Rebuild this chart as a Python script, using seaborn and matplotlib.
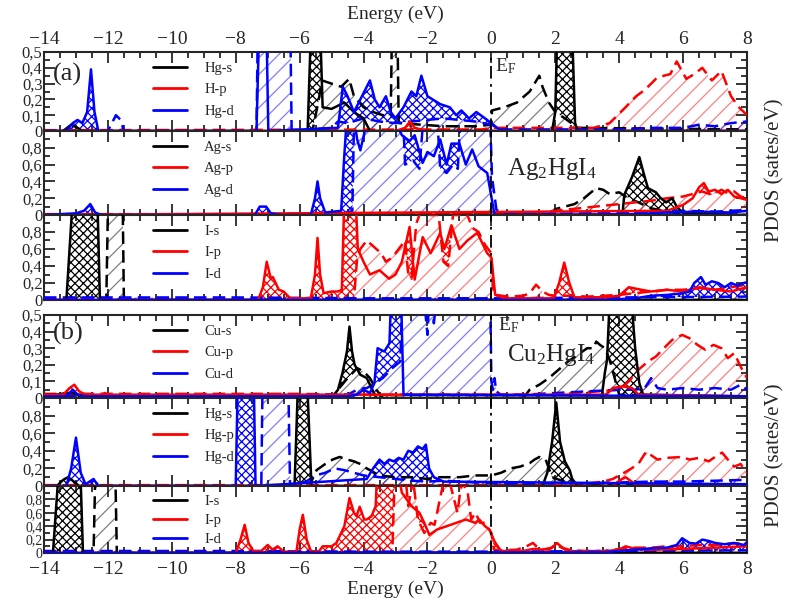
import numpy as np
import matplotlib
matplotlib.use('Agg')
import matplotlib.pyplot as plt
import seaborn as sns
from matplotlib.lines import Line2D
from matplotlib.ticker import MultipleLocator, FixedLocator, FuncFormatter

sns.set_theme(style='ticks')
plt.rcParams['font.family'] = ['Liberation Serif', 'DejaVu Serif']
plt.rcParams['mathtext.fontset'] = 'custom'
plt.rcParams['mathtext.rm'] = 'Liberation Serif'
plt.rcParams['mathtext.it'] = 'Liberation Serif'
plt.rcParams['hatch.linewidth'] = 0.9

# ---------------- (a) Ag2HgI4 : Hg ----------------
a_hg_labels = ['Hg-s', 'H-p', 'Hg-d']
a_hg_s_solid_e = [-14, -13.4, -13.15, -12.95, -12.8, -5.75, -5.62, -5.5, -5.38, -5.28, -5.0, -4.6, -4.3, -4.0, -3.8,
                  1.9, 2.0, 2.08, 2.3, 2.5, 2.62, 2.7, 8]
a_hg_s_solid_v = [0, 0, 0.04, 0.02, 0, 0, 0.8, 0.8, 0.8, 0.15, 0.14, 0.18, 0.12, 0.08, 0,
                  0, 0.12, 0.8, 0.8, 0.8, 0.05, 0.0, 0]
a_hg_s_dash_e = [-14, -5.6, -5.4, -5.3, -5.0, -4.7, -4.45, -4.3, -4.0, -3.7, -3.4, -3.15, -3.1, -2.95, -2.9, -1.5,
                 -0.5, 0.0, 0.02, 0.4, 0.8, 1.2, 1.35, 1.5, 1.6, 1.8, 2.0, 2.3, 2.7, 8]
a_hg_s_dash_v = [0, 0, 0.2, 0.32, 0.3, 0.28, 0.33, 0.22, 0.15, 0.12, 0.1, 0.1, 0.8, 0.8, 0.05, 0.03,
                 0.03, 0.04, 0.13, 0.15, 0.18, 0.25, 0.3, 0.35, 0.28, 0.18, 0.12, 0.08, 0.02, 0.01]
a_hg_p_solid_e = [-14, -3.0, -2.7, -2.55, -2.4, -2.0, 8]
a_hg_p_solid_v = [0, 0, 0.02, 0.06, 0.02, 0, 0]
a_hg_p_dash_e = [-14, -0.3, 0.0, 2.7, 3.2, 3.7, 4.1, 4.53, 4.8, 5.15, 5.4, 5.6, 5.8, 6.1, 6.35, 6.6, 6.9, 7.2,
                 7.5, 7.75, 8.0]
a_hg_p_dash_v = [0.005, 0.01, 0.02, 0.02, 0.02, 0.05, 0.13, 0.22, 0.26, 0.33, 0.35, 0.36, 0.44, 0.33, 0.36, 0.4,
                 0.32, 0.38, 0.22, 0.15, 0.1]
a_hg_d_solid_e = [-14, -13.3, -13.1, -12.95, -12.8, -12.65, -12.53, -12.42, -12.3, -7.35, -7.25, -7.05, -6.98,
                  -4.8, -4.65, -4.5, -4.3, -4.15, -3.8, -3.65, -3.5, -3.3, -3.15, -3.0, -2.75, -2.5, -2.35,
                  -2.19, -2.0, -1.84, -1.6, -1.3, -1.1, -0.94, -0.7, -0.47, -0.2, 0.0, 0.3, 8]
a_hg_d_solid_v = [0, 0, 0.05, 0.07, 0.05, 0.12, 0.39, 0.12, 0, 0, 0.8, 0.8, 0,
                  0.02, 0.28, 0.22, 0.12, 0.18, 0.32, 0.2, 0.15, 0.22, 0.12, 0.08, 0.15, 0.25, 0.22,
                  0.35, 0.22, 0.2, 0.17, 0.15, 0.1, 0.13, 0.08, 0.12, 0.08, 0.05, 0.0, 0.0]
a_hg_d_dash_e = [-14, -12.0, -11.85, -11.75, -11.6, -11.5, -7.35, -7.3, -6.3, -6.25, -5.0, -4.8, -4.5, -4.0,
                 -3.5, -3.0, -2.5, -2.0, -1.5, -1.0, -0.5, 0.0, 0.3, 4.0, 5.0, 6.0, 6.5, 7.0, 7.5, 8.0]
a_hg_d_dash_v = [0, 0, 0.06, 0.1, 0.07, 0, 0, 0.8, 0.8, 0, 0.02, 0.06, 0.05, 0.08,
                 0.06, 0.05, 0.06, 0.07, 0.08, 0.07, 0.06, 0.04, 0.01, 0.01, 0.02, 0.02, 0.04, 0.03, 0.05, 0.06]

# ---------------- (a) Ag2HgI4 : Ag ----------------
a_ag_labels = ['Ag-s', 'Ag-p', 'Ag-d']
a_ag_s_solid_e = [-14, 4.1, 4.16, 4.4, 4.63, 4.8, 4.9, 5.15, 5.3, 5.47, 5.66, 5.8, 6.0, 8]
a_ag_s_solid_v = [0, 0, 0.24, 0.45, 0.69, 0.45, 0.32, 0.27, 0.2, 0.15, 0.2, 0.1, 0.02, 0]
a_ag_s_dash_e = [-14, 1.8, 2.0, 2.3, 2.6, 2.9, 3.28, 3.5, 3.7, 4.0, 4.2, 4.6, 5.0, 5.5, 6.0, 8]
a_ag_s_dash_v = [0, 0, 0.07, 0.1, 0.13, 0.2, 0.32, 0.3, 0.25, 0.27, 0.22, 0.15, 0.08, 0.04, 0.01, 0]
a_ag_p_solid_e = [-14, 5.5, 6.0, 6.3, 6.5, 6.65, 6.8, 7.0, 7.2, 7.4, 7.6, 8.0]
a_ag_p_solid_v = [0, 0.05, 0.12, 0.2, 0.33, 0.38, 0.28, 0.3, 0.25, 0.3, 0.22, 0.18]
a_ag_p_dash_e = [-14, 0, 0.5, 1.0, 1.5, 2.0, 2.5, 3.0, 3.5, 4.0, 4.5, 5.0, 5.5, 6.0, 6.3, 6.6, 6.9, 7.2, 7.4,
                 7.6, 7.8, 8.0]
a_ag_p_dash_v = [0.01, 0.01, 0.01, 0.02, 0.03, 0.05, 0.07, 0.09, 0.11, 0.13, 0.15, 0.17, 0.2, 0.22, 0.25, 0.28,
                 0.24, 0.3, 0.26, 0.28, 0.22, 0.2]
a_ag_d_solid_e = [-14, -13.0, -12.75, -12.55, -12.4, -12.2, -7.4, -7.25, -7.05, -6.9, -6.6, -5.65, -5.52, -5.44,
                  -5.36, -5.2, -4.7, -4.62, -4.5, -4.35, -4.2, -4.1, -3.9, -3.6, -3.3, -3.0, -2.8, -2.56,
                  -2.4, -2.15, -2.0, -1.8, -1.6, -1.4, -1.25, -1.0, -0.8, -0.6, -0.4, -0.13, 0.1, 4.5, 5.5,
                  6.5, 7.5, 8.0]
a_ag_d_solid_v = [0, 0.02, 0.05, 0.13, 0.03, 0.0, 0.0, 0.1, 0.1, 0.02, 0.0, 0.0, 0.2, 0.4,
                  0.2, 0.03, 0.05, 0.6, 1.3, 1.3, 0.9, 0.77, 1.1, 1.2, 1.1, 1.1, 0.95, 0.88,
                  0.95, 0.62, 0.75, 0.7, 0.9, 0.6, 0.85, 0.85, 0.6, 0.78, 0.58, 0.5, 0.0, 0.01, 0.03,
                  0.04, 0.03, 0.05]
a_ag_d_dash_e = [-14, -4.7, -4.35, -4.28, -2.8, -2.7, -2.45, -2.25, -2.1, -1.9, -1.7, -1.6, -1.4, -1.2, -1.05,
                 -0.95, -0.05, 0.02, 0.16, 0.4, 1.0, 5.0, 6.0, 7.0, 7.5, 8.0]
a_ag_d_dash_v = [0, 0, 0.05, 1.5, 1.5, 0.6, 0.65, 0.55, 1.3, 1.3, 1.2, 0.55, 0.5, 0.6, 0.55,
                 1.3, 1.3, 0.45, 0.06, 0.02, 0.01, 0.03, 0.05, 0.04, 0.05, 0.06]

# ---------------- (a) Ag2HgI4 : I ----------------
a_i_labels = ['I-s', 'I-p', 'I-d']
a_i_s_solid_e = [-14, -13.3, -13.05, -12.85, -12.7, -12.55, -12.35, -12.25, 8]
a_i_s_solid_v = [0, 0, 1.5, 1.5, 1.2, 1.5, 1.5, 0, 0]
a_i_s_dash_e = [-14, -12.05, -11.98, -11.55, -11.5, 8]
a_i_s_dash_v = [0, 0, 1.5, 1.5, 0, 0]
a_i_p_solid_e = [-14, -7.3, -7.15, -7.03, -6.9, -6.84, -6.65, -6.5, -6.3, -5.65, -5.52, -5.44, -5.36, -5.25,
                 -5.0, -4.8, -4.68, -4.58, -4.28, -4.18, -4.0, -3.8, -3.5, -3.2, -3.0, -2.8, -2.56, -2.4,
                 -2.15, -1.9, -1.6, -1.47, -1.25, -1.0, -0.75, -0.44, -0.13, 0.0, 0.12, 0.4, 1.95, 2.12,
                 2.28, 2.44, 2.6, 3.5, 4.0, 4.3, 4.7, 5.0, 5.5, 6.0, 6.5, 7.0, 7.5, 8.0]
a_i_p_solid_v = [0, 0, 0.15, 0.45, 0.25, 0.27, 0.12, 0.1, 0.02, 0.02, 0.3, 0.73, 0.3, 0.08,
                 0.1, 0.1, 0.12, 1.5, 1.5, 0.6, 0.45, 0.3, 0.35, 0.25, 0.3, 0.45, 0.86, 0.24,
                 0.74, 0.55, 0.79, 0.6, 0.88, 0.6, 0.7, 0.79, 0.55, 0.5, 0.06, 0.02, 0.02, 0.2,
                 0.44, 0.2, 0.03, 0.03, 0.05, 0.15, 0.12, 0.1, 0.12, 0.1, 0.15, 0.12, 0.1, 0.15]
a_i_p_dash_e = [-14, -4.3, -4.2, -4.1, -3.9, -3.75, -3.6, -3.45, -3.3, -3.1, -2.9, -2.7, -2.6, -2.5, -2.35,
                -2.2, -1.9, -1.65, -1.5, -1.35, -1.2, -1.0, -0.8, -0.6, -0.4, -0.2, 0.0, 0.05, 0.16, 0.5,
                1.0, 1.2, 1.4, 1.6, 1.8, 2.0, 2.5, 3.0, 3.5, 4.0, 4.5, 5.0, 5.5, 6.0, 6.5, 7.0, 7.5, 8.0]
a_i_p_dash_v = [0.01, 0.01, 0.5, 0.6, 0.7, 0.65, 0.6, 0.55, 0.45, 0.5, 0.6, 0.7, 0.3, 0.25, 0.9,
                1.05, 1.0, 1.0, 0.45, 0.4, 1.0, 1.0, 1.05, 0.85, 0.8, 0.65, 0.55, 0.1, 0.06, 0.04,
                0.05, 0.08, 0.18, 0.1, 0.06, 0.05, 0.05, 0.04, 0.05, 0.06, 0.08, 0.1, 0.12, 0.12, 0.14, 0.12,
                0.15, 0.18]
a_i_d_solid_e = [-14, 3.5, 4.5, 5.0, 5.5, 6.0, 6.2, 6.35, 6.56, 6.7, 6.9, 7.1, 7.3, 7.5, 7.7, 7.9, 8.0]
a_i_d_solid_v = [0, 0, 0.02, 0.05, 0.06, 0.08, 0.1, 0.2, 0.27, 0.18, 0.22, 0.2, 0.15, 0.2, 0.17, 0.2, 0.21]
a_i_d_dash_e = [-14, -8, -4, 0, 4, 8]
a_i_d_dash_v = [0.03, 0.03, 0.02, 0.02, 0.03, 0.04]

# ---------------- (b) Cu2HgI4 : Cu ----------------
b_cu_labels = ['Cu-s', 'Cu-p', 'Cu-d']
b_cu_s_solid_e = [-14, -13.6, -13.3, -13.1, -12.9, -12.4, -5.0, -4.8, -4.66, -4.52, -4.44, -4.36, -4.28, -4.1,
                  -3.9, -3.75, -3.6, 3.45, 3.55, 3.62, 3.75, 4.3, 4.5, 4.63, 4.75, 8]
b_cu_s_solid_v = [0.02, 0.02, 0.03, 0.03, 0.02, 0.01, 0.0, 0.05, 0.15, 0.28, 0.43, 0.28, 0.2, 0.14,
                  0.12, 0.06, 0.0, 0.0, 0.15, 0.23, 0.8, 0.8, 0.3, 0.09, 0.02, 0.01]
b_cu_s_dash_e = [-14, -5.0, -4.8, -4.5, -4.2, -4.0, -3.8, -3.6, -3.4, 1.0, 1.2, 1.5, 1.8, 2.1, 2.4, 2.7, 3.0,
                 3.2, 3.28, 3.4, 3.55, 3.7, 4.0, 8]
b_cu_s_dash_v = [0, 0, 0.05, 0.12, 0.18, 0.16, 0.12, 0.05, 0.0, 0.0, 0.05, 0.08, 0.12, 0.17, 0.22, 0.26, 0.3,
                 0.3, 0.34, 0.32, 0.3, 0.23, 0.02, 0.0]
b_cu_p_solid_e = [-14, -13.4, -13.2, -13.05, -12.9, -12.7, -12.2, -12.1, -12.0, 3.6, 3.8, 4.1, 4.4, 4.6, 8]
b_cu_p_solid_v = [0.02, 0.02, 0.06, 0.08, 0.04, 0.02, 0.02, 0.03, 0.02, 0.02, 0.06, 0.07, 0.06, 0.02, 0.01]
b_cu_p_dash_e = [-14, -10, -6, -4.5, -2, 0, 2, 4.0, 4.3, 4.6, 4.9, 5.15, 5.4, 5.66, 5.97, 6.2, 6.45, 6.7,
                 6.95, 7.2, 7.4, 7.6, 7.85, 8.0]
b_cu_p_dash_v = [0.025, 0.025, 0.025, 0.02, 0.02, 0.02, 0.02, 0.05, 0.1, 0.17, 0.22, 0.25, 0.3, 0.35, 0.38,
                 0.36, 0.32, 0.29, 0.32, 0.3, 0.24, 0.27, 0.17, 0.12]
b_cu_d_solid_e = [-14, -13.3, -13.1, -12.95, -12.8, -4.5, -4.2, -4.0, -3.8, -3.66, -3.56, -3.35, -3.19, -3.1,
                  -2.85, -2.75, 8]
b_cu_d_solid_v = [0.01, 0.01, 0.05, 0.02, 0.01, 0.01, 0.02, 0.05, 0.03, 0.09, 0.3, 0.28, 0.33, 0.8,
                  0.8, 0.02, 0.01]
b_cu_d_dash_e = [-14, -4.5, -4.2, -3.9, -3.7, -3.4, -3.1, -2.85, -2.75, -2.2, -2.0, -1.9, -1.8, -1.6, -0.05,
                 0.0, 0.05, 0.1, 0.15, 0.3, 1.0, 2.0, 3.0, 4.0, 4.5, 4.8, 5.0, 5.2, 5.5, 6.0, 6.5, 7.0, 7.5,
                 7.8, 8.0]
b_cu_d_dash_v = [0.01, 0.02, 0.05, 0.06, 0.08, 0.12, 0.18, 0.22, 0.8, 0.8, 0.38, 0.8, 0.45, 0.8, 0.8,
                 0.1, 0.05, 0.12, 0.04, 0.02, 0.02, 0.03, 0.04, 0.05, 0.05, 0.06, 0.12, 0.06, 0.05, 0.06, 0.05,
                 0.06, 0.05, 0.08, 0.05]

# ---------------- (b) Cu2HgI4 : Hg ----------------
b_hg_labels = ['Hg-s', 'Hg-p', 'Hg-d']
b_hg_s_solid_e = [-14, -13.6, -13.4, -13.25, -13.1, -12.9, -6.16, -6.02, -5.8, -5.63, -5.55, 1.6, 1.75, 1.9,
                  2.03, 2.15, 2.3, 2.45, 2.53, 2.7, 8]
b_hg_s_solid_v = [0, 0, 0.07, 0.1, 0.06, 0, 0, 1.5, 1.5, 0, 0, 0, 0.15, 0.5,
                  0.95, 0.5, 0.28, 0.18, 0.08, 0, 0]
b_hg_s_dash_e = [-14, -5.7, -5.47, -5.2, -4.97, -4.75, -4.5, -4.3, -4.1, -3.9, -3.5, -3.0, -2.5, -2.0, -1.6,
                 -1.0, -0.5, 0.0, 0.3, 0.6, 0.9, 1.2, 1.35, 1.5, 1.7, 1.9, 2.5, 8]
b_hg_s_dash_v = [0, 0, 0.18, 0.25, 0.3, 0.33, 0.3, 0.28, 0.25, 0.2, 0.12, 0.1, 0.1, 0.08, 0.1,
                 0.1, 0.12, 0.12, 0.15, 0.2, 0.22, 0.26, 0.3, 0.33, 0.3, 0.1, 0.02, 0]
b_hg_p_solid_e = [-14, 3.8, 4.0, 4.2, 4.5, 8]
b_hg_p_solid_v = [0, 0, 0.06, 0.1, 0.02, 0]
b_hg_p_dash_e = [-14, 2.5, 3.0, 3.5, 3.8, 4.0, 4.3, 4.6, 4.84, 5.2, 5.5, 5.97, 6.2, 6.5, 6.8, 7.0, 7.22, 7.4,
                 7.6, 7.8, 8.0]
b_hg_p_dash_v = [0.01, 0.01, 0.03, 0.05, 0.08, 0.12, 0.18, 0.25, 0.39, 0.3, 0.32, 0.33, 0.3, 0.32, 0.28, 0.33,
                 0.38, 0.3, 0.22, 0.25, 0.15]
b_hg_d_solid_e = [-14, -13.3, -13.15, -13.0, -12.85, -12.7, -12.45, -12.3, -8.0, -7.92, -7.45, -7.38, -3.9,
                  -3.7, -3.5, -3.35, -3.2, -3.05, -2.9, -2.75, -2.6, -2.45, -2.3, -2.15, -2.05, -1.95, -1.8,
                  -1.5, 8]
b_hg_d_solid_v = [0, 0, 0.2, 0.55, 0.15, 0.02, 0.08, 0.0, 0, 1.5, 1.5, 0, 0.08,
                  0.2, 0.3, 0.25, 0.3, 0.28, 0.32, 0.3, 0.4, 0.38, 0.45, 0.42, 0.47, 0.2, 0.1,
                  0.05, 0.02]
b_hg_d_dash_e = [-14, -12.5, -12.4, -12.3, -7.2, -7.15, -6.37, -6.3, -5.8, -5.5, -5.2, -4.9, -4.6, -4.3, -4.0,
                 -3.5, -3.0, -2.5, -2.0, -1.5, -1.0, -0.5, 0.0, 1.0, 2.0, 3.0, 4.0, 5.0, 6.0, 7.0, 8.0]
b_hg_d_dash_v = [0.0, 0.0, 0.06, 0.0, 0, 1.5, 1.5, 0.0, 0.05, 0.12, 0.15, 0.2, 0.18, 0.15, 0.12,
                 0.1, 0.08, 0.06, 0.05, 0.06, 0.05, 0.04, 0.03, 0.02, 0.03, 0.03, 0.04, 0.05, 0.05, 0.06, 0.07]

# ---------------- (b) Cu2HgI4 : I ----------------
b_i_labels = ['I-s', 'I-p', 'I-d']
b_i_s_solid_e = [-14, -13.72, -13.5, -12.88, -12.78, 8]
b_i_s_solid_v = [0, 0, 1.5, 1.5, 0, 0]
b_i_s_dash_e = [-14, -12.45, -12.38, -11.78, -11.72, 8]
b_i_s_dash_v = [0, 0, 1.5, 1.5, 0, 0]
b_i_p_solid_e = [-14, -8.0, -7.85, -7.72, -7.6, -7.45, -7.2, -7.0, -6.85, -6.69, -6.5, -6.1, -6.0, -5.9, -5.78,
                 -5.65, -5.4, -5.28, -5.0, -4.85, -4.6, -4.44, -4.3, -4.22, -4.12, -3.98, -3.9, -3.75, -3.62,
                 -3.55, -3.05, -2.8, -2.5, -2.25, -2.1, -1.94, -1.7, -1.4, -1.1, -0.8, -0.5, -0.38, -0.2,
                 -0.06, 0.1, 0.3, 1.0, 1.3, 1.6, 1.9, 2.05, 2.3, 2.6, 3.5, 4.0, 4.2, 4.5, 5.0, 6.0, 7.0, 8.0]
b_i_p_solid_v = [0, 0, 0.2, 0.42, 0.15, 0.03, 0.03, 0.12, 0.05, 0.1, 0.02, 0.02, 0.35, 0.57, 0.2,
                 0.03, 0.02, 0.1, 0.1, 0.15, 0.4, 0.82, 0.6, 0.55, 0.69, 0.5, 0.5, 0.55, 0.7,
                 1.5, 1.5, 0.9, 0.7, 0.6, 0.45, 0.27, 0.35, 0.4, 0.45, 0.5, 0.45, 0.5, 0.4,
                 0.35, 0.17, 0.03, 0.03, 0.06, 0.05, 0.08, 0.15, 0.05, 0.02, 0.02, 0.05, 0.1, 0.06, 0.05, 0.06,
                 0.08, 0.1]
b_i_p_dash_e = [-14, -3.1, -3.0, -2.8, -2.7, -2.6, -2.45, -2.3, -2.1, -1.9, -1.78, -1.5, -1.3, -1.06, -0.94,
                -0.75, -0.63, -0.5, -0.35, -0.2, 0.0, 0.08, 0.3, 0.8, 1.1, 1.3, 1.5, 1.8, 2.0, 2.2, 2.5, 3.0,
                3.5, 4.0, 4.5, 5.0, 5.5, 6.0, 6.5, 7.0, 7.5, 8.0]
b_i_p_dash_v = [0.01, 0.01, 1.5, 1.5, 1.2, 0.7, 1.1, 0.5, 0.3, 0.45, 0.42, 1.05, 1.05, 0.6, 1.05,
                0.94, 0.5, 0.6, 0.45, 0.45, 0.3, 0.05, 0.04, 0.05, 0.1, 0.15, 0.06, 0.05, 0.12, 0.08, 0.04, 0.03,
                0.03, 0.06, 0.08, 0.08, 0.1, 0.1, 0.12, 0.12, 0.14, 0.15]
b_i_d_solid_e = [-14, 3.5, 4.0, 4.5, 5.0, 5.5, 5.8, 5.97, 6.2, 6.4, 6.6, 6.8, 7.0, 7.3, 7.6, 7.9, 8.0]
b_i_d_solid_v = [0, 0.01, 0.03, 0.05, 0.07, 0.08, 0.12, 0.22, 0.15, 0.14, 0.2, 0.18, 0.15, 0.13, 0.15, 0.12,
                 0.16]
b_i_d_dash_e = [-14, -8, -4, 0, 4, 8]
b_i_d_dash_v = [0.03, 0.03, 0.02, 0.02, 0.03, 0.04]

# panel geometry in pixels (top, bottom) of the 786x603 figure
W, H = 786, 603
x_left, x_right = 44, 747
panel_px = [(52, 131), (131, 215), (215, 300), (315, 398), (398, 486), (486, 553)]
colors = ['black', 'red', 'blue']

panels = [
    (0.5, a_hg_labels, [(a_hg_s_solid_e, a_hg_s_solid_v, a_hg_s_dash_e, a_hg_s_dash_v),
                        (a_hg_p_solid_e, a_hg_p_solid_v, a_hg_p_dash_e, a_hg_p_dash_v),
                        (a_hg_d_solid_e, a_hg_d_solid_v, a_hg_d_dash_e, a_hg_d_dash_v)]),
    (1.0, a_ag_labels, [(a_ag_s_solid_e, a_ag_s_solid_v, a_ag_s_dash_e, a_ag_s_dash_v),
                        (a_ag_p_solid_e, a_ag_p_solid_v, a_ag_p_dash_e, a_ag_p_dash_v),
                        (a_ag_d_solid_e, a_ag_d_solid_v, a_ag_d_dash_e, a_ag_d_dash_v)]),
    (1.0, a_i_labels, [(a_i_s_solid_e, a_i_s_solid_v, a_i_s_dash_e, a_i_s_dash_v),
                       (a_i_p_solid_e, a_i_p_solid_v, a_i_p_dash_e, a_i_p_dash_v),
                       (a_i_d_solid_e, a_i_d_solid_v, a_i_d_dash_e, a_i_d_dash_v)]),
    (0.5, b_cu_labels, [(b_cu_s_solid_e, b_cu_s_solid_v, b_cu_s_dash_e, b_cu_s_dash_v),
                        (b_cu_p_solid_e, b_cu_p_solid_v, b_cu_p_dash_e, b_cu_p_dash_v),
                        (b_cu_d_solid_e, b_cu_d_solid_v, b_cu_d_dash_e, b_cu_d_dash_v)]),
    (1.0, b_hg_labels, [(b_hg_s_solid_e, b_hg_s_solid_v, b_hg_s_dash_e, b_hg_s_dash_v),
                        (b_hg_p_solid_e, b_hg_p_solid_v, b_hg_p_dash_e, b_hg_p_dash_v),
                        (b_hg_d_solid_e, b_hg_d_solid_v, b_hg_d_dash_e, b_hg_d_dash_v)]),
    (1.0, b_i_labels, [(b_i_s_solid_e, b_i_s_solid_v, b_i_s_dash_e, b_i_s_dash_v),
                       (b_i_p_solid_e, b_i_p_solid_v, b_i_p_dash_e, b_i_p_dash_v),
                       (b_i_d_solid_e, b_i_d_solid_v, b_i_d_dash_e, b_i_d_dash_v)]),
]

comma = FuncFormatter(lambda v, p: ('%g' % round(v, 3)).replace('.', ','))

fig = plt.figure(figsize=(W / 100, H / 100), dpi=100)
axes = []
for k, (ymax, labels, curves) in enumerate(panels):
    top, bot = panel_px[k]
    ax = fig.add_axes([x_left / W, 1 - bot / H, (x_right - x_left) / W, (bot - top) / H])
    axes.append(ax)

    # dashed curves: "//" hatch down to zero
    for c, (se, sv, de, dv) in zip(colors, curves):
        ax.fill_between(de, dv, 0, facecolor='none', edgecolor=c, hatch='//', lw=0, alpha=0.5, zorder=1)
    # solid curves: crosshatch where they rise above the dashed one
    for c, (se, sv, de, dv) in zip(colors, curves):
        grid = np.union1d(se, de)
        hi = np.interp(grid, se, sv)
        lo = np.interp(grid, de, dv)
        ax.fill_between(grid, hi, lo, where=hi > lo, interpolate=True,
                        facecolor='none', edgecolor=c, hatch='xxxx', lw=0, zorder=2)
    for c, (se, sv, de, dv) in zip(colors, curves):
        sns.lineplot(x=de, y=dv, ax=ax, color=c, lw=1.8, linestyle=(0, (5, 2.5)),
                     estimator=None, sort=False, legend=False, zorder=3)
        sns.lineplot(x=se, y=sv, ax=ax, color=c, lw=1.8, linestyle='-',
                     estimator=None, sort=False, legend=False, zorder=4)

    ax.axvline(0, color='black', lw=1.3, linestyle=(0, (7, 3, 1.5, 3)), zorder=5)

    ax.set_xlim(-14, 8)
    ax.set_ylim(0, ymax)
    ax.xaxis.set_major_locator(MultipleLocator(2))
    ax.xaxis.set_minor_locator(MultipleLocator(0.5))
    if ymax == 0.5:
        ax.yaxis.set_major_locator(MultipleLocator(0.1))
        ax.yaxis.set_minor_locator(MultipleLocator(0.05))
    else:
        ax.yaxis.set_major_locator(FixedLocator([0, 0.2, 0.4, 0.6, 0.8]))
        ax.yaxis.set_minor_locator(MultipleLocator(0.1))
    ax.yaxis.set_major_formatter(comma)
    ax.tick_params(which='both', direction='in', top=True, right=True, bottom=True, left=True,
                   labelbottom=(k == 5), labeltop=(k == 0), width=1.3)
    ax.tick_params(axis='x', labelsize=14, pad=6 if k == 5 else 3)
    ax.tick_params(axis='y', labelsize=10 if k == 5 else 12, pad=1)
    ax.tick_params(which='major', length=8)
    ax.tick_params(which='minor', length=4)
    for s in ax.spines.values():
        s.set_linewidth(1.5)
    ax.set_xlabel('')
    ax.set_ylabel('')

    handles = [Line2D([], [], color=c, lw=2) for c in colors]
    leg_top = (top + 10) if k != 5 else (top + 9)
    ax.legend(handles, labels, loc='upper left', frameon=False, fontsize=10.5,
              bbox_to_anchor=(158 / W - 0.006, 1 - leg_top / H), bbox_transform=fig.transFigure,
              handlelength=2.3, handletextpad=1.2, borderpad=0, borderaxespad=0,
              labelspacing=0.55 if k != 5 else 0.4)

# annotations
axes[0].text(0.012, 0.72, '(a)', transform=axes[0].transAxes, fontsize=19, va='center', ha='left')
axes[3].text(0.012, 0.78, '(b)', transform=axes[3].transAxes, fontsize=19, va='center', ha='left')
axes[0].text(0.1, 0.82, r'E$_\mathrm{F}$', fontsize=14, va='center', ha='left',
             transform=axes[0].get_xaxis_transform())
axes[3].text(0.2, 0.88, r'E$_\mathrm{F}$', fontsize=14, va='center', ha='left',
             transform=axes[3].get_xaxis_transform())
axes[1].text(0.5, 0.48, r'Ag$_2$HgI$_4$', fontsize=18, va='baseline', ha='left',
             transform=axes[1].get_xaxis_transform())
axes[3].text(0.5, 0.45, r'Cu$_2$HgI$_4$', fontsize=18, va='baseline', ha='left',
             transform=axes[3].get_xaxis_transform())

fig.text(395 / W, 1 - 14 / H, 'Energy (eV)', ha='center', va='center', fontsize=14)
fig.text(395 / W, 1 - 589 / H, 'Energy (eV)', ha='center', va='center', fontsize=14)
fig.text(775 / W, 1 - 170 / H, 'PDOS (sates/eV)', ha='center', va='center', rotation=90, fontsize=15)
fig.text(775 / W, 1 - 455 / H, 'PDOS (sates/eV)', ha='center', va='center', rotation=90, fontsize=15)

fig.savefig('out.png', dpi=100)
